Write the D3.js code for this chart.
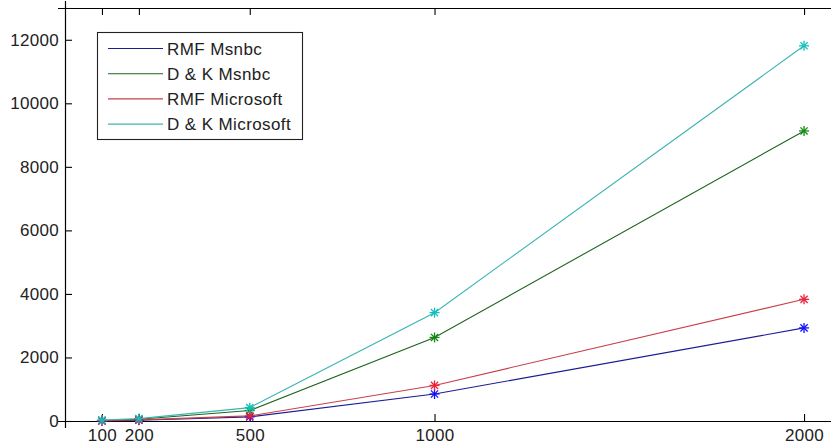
<!DOCTYPE html>
<html>
<head>
<meta charset="utf-8">
<script src="https://cdn.jsdelivr.net/npm/d3@7"></script>
<style>
  body { margin: 0; background: #fff; }
  svg { display: block; }
  text { font-family: "Liberation Sans", Arial, sans-serif; fill: #222; }
</style>
</head>
<body>
<svg id="chart" width="831" height="446"></svg>
<script>
// sample sizes on the x axis
var sizes = [100, 200, 500, 1000, 2000];

// running times per method / dataset
var rmfMsnbc = [5, 25, 130, 850, 2930];
var dkMsnbc = [15, 55, 330, 2630, 9130];
var rmfMicrosoft = [10, 35, 160, 1120, 3830];
var dkMicrosoft = [30, 75, 420, 3410, 11810];

var seriesNames = ["RMF Msnbc", "D & K Msnbc", "RMF Microsoft", "D & K Microsoft"];
var lineColors = ["#1c1c96", "#1d641d", "#c8404a", "#3cb4b4"];
var markerColors = ["#1010ff", "#108a10", "#f0203a", "#10c0c0"];

var yTicks = [0, 2000, 4000, 6000, 8000, 10000, 12000];

var series = [rmfMsnbc, dkMsnbc, rmfMicrosoft, dkMicrosoft].map(function(vals, i) {
  return {
    name: seriesNames[i],
    line: lineColors[i],
    marker: markerColors[i],
    points: vals.map(function(v, j) { return { x: sizes[j], y: v }; })
  };
});

var plotLeft = 65, plotRight = 841, plotTop = 8, plotBottom = 421;
var tickLen = 7;
var fontSize = "17px";

var x = d3.scaleLinear().domain([0, 2100]).range([plotLeft, plotRight]);
var y = d3.scaleLinear().domain([0, 13000]).range([plotBottom, plotTop]);

var svg = d3.select("#chart");

// axes (MATLAB style box with inward ticks)
var xAxis = d3.axisBottom(x).tickValues(sizes).tickSize(tickLen).tickFormat(d3.format("d"));
var xAxisTop = d3.axisTop(x).tickValues(sizes).tickSize(tickLen).tickFormat("");
var yAxis = d3.axisLeft(y).tickValues(yTicks).tickSize(tickLen).tickFormat(d3.format("d"));

var gx = svg.append("g")
  .attr("transform", "translate(0," + plotBottom + ")")
  .call(xAxis);
gx.selectAll(".tick line").attr("y2", -tickLen);

var gxt = svg.append("g")
  .attr("transform", "translate(0," + plotTop + ")")
  .call(xAxisTop);
gxt.selectAll(".tick line").attr("y2", tickLen);

var gy = svg.append("g")
  .attr("transform", "translate(" + plotLeft + ",0)")
  .call(yAxis);
gy.selectAll(".tick line").attr("x2", tickLen);
gy.selectAll(".tick text").attr("x", -6);

[gx, gxt, gy].forEach(function(g) {
  g.select(".domain").attr("stroke", "#000").attr("stroke-width", 1.2);
  g.selectAll(".tick line").attr("stroke", "#000").attr("stroke-width", 1.1);
  g.selectAll(".tick text")
    .style("font-family", '"Liberation Sans", Arial, sans-serif')
    .style("font-size", fontSize)
    .style("letter-spacing", "0.3px")
    .attr("fill", "#222");
});
gx.selectAll(".tick text").attr("y", 8);

// right border of the box
svg.append("line")
  .attr("x1", plotRight).attr("x2", plotRight)
  .attr("y1", plotTop).attr("y2", plotBottom)
  .attr("stroke", "#000");

// plot lines
var line = d3.line()
  .x(function(d) { return x(d.x); })
  .y(function(d) { return y(d.y); });

var plot = svg.append("g").attr("class", "series");

series.forEach(function(s) {
  plot.append("path")
    .datum(s.points)
    .attr("fill", "none")
    .attr("stroke", s.line)
    .attr("stroke-width", 1.1)
    .attr("d", line);
});

// asterisk markers
series.forEach(function(s) {
  var m = plot.selectAll(null)
    .data(s.points)
    .enter()
    .append("g")
    .attr("transform", function(d) {
      return "translate(" + x(d.x) + "," + y(d.y) + ")";
    })
    .attr("stroke", s.marker)
    .attr("stroke-width", 1.3);
  var r = 5, q = 3.6;
  m.append("line").attr("x1", -r).attr("x2", r).attr("y1", 0).attr("y2", 0);
  m.append("line").attr("x1", 0).attr("x2", 0).attr("y1", -r).attr("y2", r);
  m.append("line").attr("x1", -q).attr("x2", q).attr("y1", -q).attr("y2", q);
  m.append("line").attr("x1", -q).attr("x2", q).attr("y1", q).attr("y2", -q);
});

// legend
var legend = svg.append("g").attr("class", "legend");
legend.append("rect")
  .attr("x", 97.5).attr("y", 32.5)
  .attr("width", 205).attr("height", 107)
  .attr("fill", "#fff")
  .attr("stroke", "#222")
  .attr("stroke-width", 1.1);

var items = legend.selectAll(".item")
  .data(series)
  .enter()
  .append("g")
  .attr("class", "item")
  .attr("transform", function(d, i) {
    return "translate(0," + (48.5 + i * 25.2) + ")";
  });

items.append("line")
  .attr("x1", 108).attr("x2", 163)
  .attr("stroke", function(d) { return d.line; })
  .attr("stroke-width", 1.1);

items.append("text")
  .attr("x", 167)
  .attr("dy", "0.36em")
  .style("font-size", fontSize)
  .style("letter-spacing", "0.4px")
  .text(function(d) { return d.name; });
</script>
</body>
</html>
